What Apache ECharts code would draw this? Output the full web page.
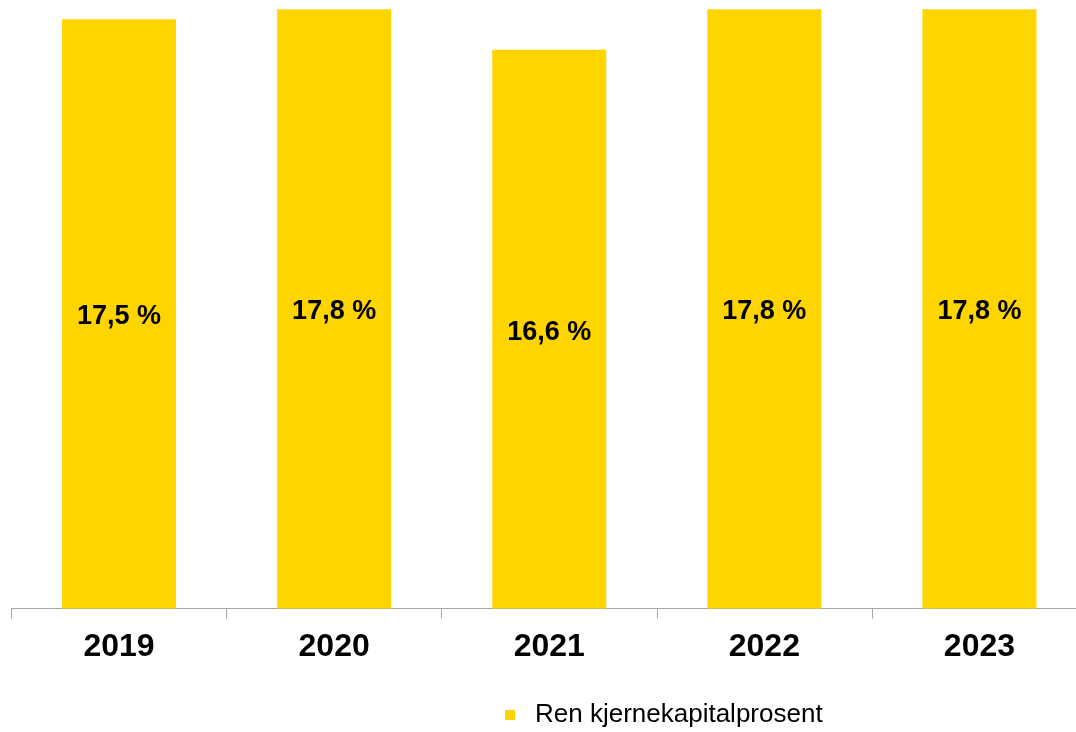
<!DOCTYPE html>
<html>
<head>
<meta charset="utf-8">
<script src="https://cdn.jsdelivr.net/npm/echarts@6/dist/echarts.min.js"></script>
<style>
  html, body { margin: 0; padding: 0; background: #fff; overflow: hidden; }
  #wrap { width: 1076px; height: 732px; overflow: hidden; }
  /* the plot runs slightly past the right edge of the view */
  #chart { width: 1087px; height: 732px; }
</style>
</head>
<body>
<div id="wrap"><div id="chart"></div></div>
<script>
// Common equity tier 1 ratio by year (percent)
const years = ['2019', '2020', '2021', '2022', '2023'];
const ratio = [17.5, 17.8, 16.6, 17.8, 17.8];
const seriesName = 'Ren kjernekapitalprosent';

const fmt = v => v.toFixed(1).replace('.', ',') + ' %';

const chart = echarts.init(document.getElementById('chart'), null, { renderer: 'canvas' });
chart.setOption({
  animation: false,
  backgroundColor: '#ffffff',
  textStyle: { fontFamily: 'Liberation Sans, Arial, sans-serif' },
  grid: { left: 11.5, right: 0, top: 2.5, bottom: 123.5, containLabel: false },
  legend: {
    data: [seriesName],
    left: 505,
    top: 702,
    padding: 0,
    itemWidth: 10,
    itemHeight: 10,
    icon: 'rect',
    textStyle: { fontSize: 26, color: '#000', padding: [0, 0, 0, 15] }
  },
  xAxis: {
    type: 'category',
    data: years,
    axisLine: { lineStyle: { color: '#A6A6A6', width: 1 } },
    axisTick: { show: true, length: 10, lineStyle: { color: '#A6A6A6' } },
    axisLabel: { fontSize: 32, fontWeight: 'bold', color: '#000', margin: 23 }
  },
  yAxis: {
    type: 'value',
    min: 0,
    max: 18,
    show: false,
    splitLine: { show: false }
  },
  series: [{
    name: seriesName,
    type: 'bar',
    data: ratio,
    barWidth: 114,
    itemStyle: { color: '#FFD500' },
    label: {
      show: true,
      position: 'inside',
      offset: [0, 3],
      formatter: p => fmt(p.value),
      fontSize: 27,
      fontWeight: 'bold',
      color: '#000'
    }
  }]
});
</script>
</body>
</html>
